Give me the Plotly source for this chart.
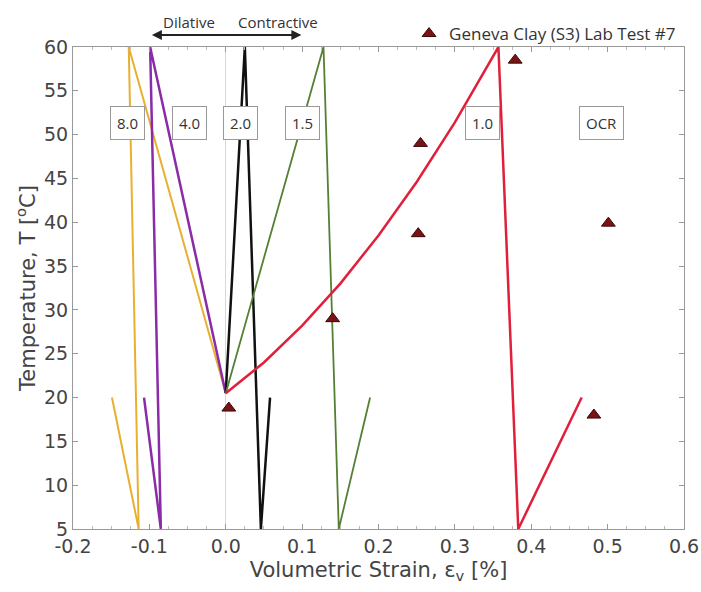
import plotly.graph_objects as go

# OCR curves (strain in %, temperature in °C)
T_cycle = [20.5, 60, 5, 20]
ocr8_x = [0.0, -0.127, -0.114, -0.149]
ocr4_x = [0.0, -0.099, -0.085, -0.107]
ocr2_x = [0.0, 0.025, 0.046, 0.058]
ocr15_x = [0.0, 0.128, 0.148, 0.189]
ocr1_x = [0.0, 0.05, 0.10, 0.15, 0.20, 0.25, 0.30, 0.357, 0.383, 0.466]
ocr1_T = [20.5, 24.0, 28.2, 33.0, 38.5, 44.6, 51.4, 60, 5, 20]

# Lab test points
lab_x = [0.004, 0.140, 0.252, 0.255, 0.379, 0.501, 0.482]
lab_T = [18.8, 29.0, 38.7, 49.0, 58.5, 39.9, 18.0]

# OCR labels
ocr_labels = ["8.0", "4.0", "2.0", "1.5", "1.0", "OCR"]
ocr_label_x = [-0.129, -0.048, 0.019, 0.100, 0.336, 0.492]
label_T = 51.3

# Tick labels
x_ticks = [-0.2, -0.1, 0.0, 0.1, 0.2, 0.3, 0.4, 0.5, 0.6]
x_ticktext = ["-0.2", "-0.1", "0.0", "0.1", "0.2", "0.3", "0.4", "0.5", "0.6"]

fig = go.Figure()
series = [
    (ocr8_x, T_cycle, "#E8B030", 2),
    (ocr4_x, T_cycle, "#8A2BA8", 2.5),
    (ocr2_x, T_cycle, "#111111", 2.5),
    (ocr15_x, T_cycle, "#557F35", 1.8),
    (ocr1_x, ocr1_T, "#E0203A", 2.5),
]
for xs, ts, col, w in series:
    fig.add_trace(go.Scatter(x=xs, y=ts, mode="lines", line=dict(color=col, width=w),
                             showlegend=False, hoverinfo="skip"))

fig.add_trace(go.Scatter(x=lab_x, y=lab_T, mode="markers", name="Geneva Clay (S3) Lab Test #7",
                         marker=dict(symbol="triangle-up", size=12, color="#7A1414",
                                     line=dict(color="#3A0808", width=1))))

label_font = dict(family="Open Sans", size=15, color="#333")
for lab, lx in zip(ocr_labels, ocr_label_x):
    fig.add_annotation(x=lx, y=label_T, xref="x", yref="y", text=lab, showarrow=False,
                       font=label_font,
                       bgcolor="white", bordercolor="#999", borderwidth=1, borderpad=6)

# Dilative / Contractive
fig.add_annotation(x=-0.048, y=1.052, xref="x", yref="paper", yanchor="middle",
                   text="Dilative", showarrow=False, font=label_font)
fig.add_annotation(x=0.068, y=1.052, xref="x", yref="paper", yanchor="middle",
                   text="Contractive", showarrow=False, font=label_font)
fig.add_annotation(x=0.099, y=1.025, xref="x", yref="paper", text="", showarrow=True,
                   ax=-151, ay=0, arrowside="end+start", arrowhead=2, arrowsize=1,
                   arrowwidth=2, arrowcolor="#222")

tick_font = dict(family="DejaVu Sans", size=19, color="#444")
title_font = dict(family="DejaVu Sans", size=21, color="#444")
fig.update_xaxes(range=[-0.2, 0.6], tickvals=x_ticks, ticktext=x_ticktext, showgrid=False,
                 automargin=False,
                 zeroline=True, zerolinecolor="#d8d8d8", zerolinewidth=1,
                 showline=True, mirror="ticks", linecolor="#999", linewidth=1,
                 ticks="inside", ticklen=5, tickcolor="#999",
                 minor=dict(ticks="inside", ticklen=3, dtick=0.025, tickcolor="#bbb"),
                 tickfont=tick_font,
                 title=dict(text="Volumetric Strain, ε<sub>v</sub> [%]", font=title_font, standoff=6))
fig.update_yaxes(range=[5, 60], dtick=5, showgrid=False, zeroline=False,
                 automargin=False,
                 showline=True, mirror="ticks", linecolor="#999", linewidth=1,
                 ticks="inside", ticklen=5, tickcolor="#999",
                 tickfont=tick_font,
                 title=dict(text="Temperature, T [<sup>o</sup>C]", font=title_font, standoff=2))

fig.update_layout(width=701, height=592, margin=dict(l=73, r=17, t=47, b=63),
                  plot_bgcolor="white", paper_bgcolor="white",
                  showlegend=True,
                  legend=dict(x=0.55, y=1.027, xanchor="left", yanchor="middle",
                              bgcolor="rgba(0,0,0,0)",
                              font=dict(family="Open Sans", size=17, color="#333"),
                              itemwidth=30, tracegroupgap=0))

fig.write_html("out.html")
